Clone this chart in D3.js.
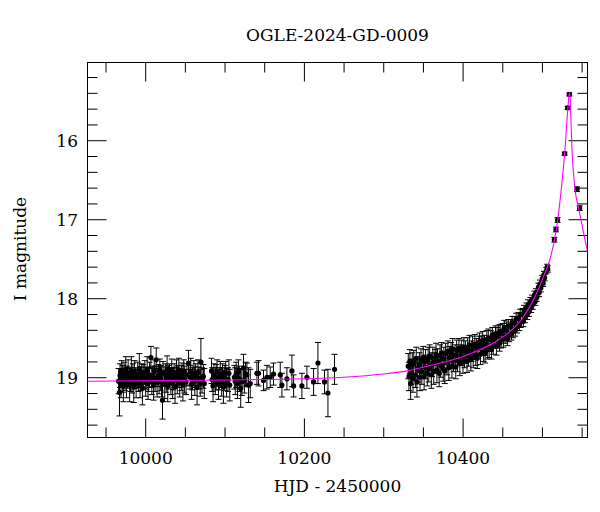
<!DOCTYPE html>
<html><head><meta charset="utf-8">
<script src="https://cdn.jsdelivr.net/npm/d3@7"></script>
<style>body{margin:0;background:#fff} svg{display:block} text{font-family:"DejaVu Serif",serif;fill:#000}</style>
</head><body><svg id="c" width="600" height="512"></svg>
<script>
const title = "OGLE-2024-GD-0009";
const xLabel = "HJD - 2450000";
const yLabel = "I magnitude";
const xMajorTicks = [10000, 10200, 10400];
const xMinorTicks = [9950, 10050, 10100, 10150, 10250, 10300, 10350, 10450, 10500, 10550];
const yMajorTicks = [16, 17, 18, 19];
const yMinorTicks = [15.2, 15.4, 15.6, 15.8, 16.2, 16.4, 16.6, 16.8, 17.2, 17.4, 17.6, 17.8, 18.2, 18.4, 18.6, 18.8, 19.2, 19.4, 19.6];

// [HJD-2450000, I mag, error]
const baselinePoints = [
[9966.5,19.05,.16],[9967.6,19.19,.30],[9968.3,18.98,.15],[9969.5,19.08,.18],[9970.4,18.93,.14],
[9971.6,19.02,.17],[9972.5,19.11,.20],[9973.4,18.96,.15],[9974.6,19.04,.13],[9975.5,18.90,.16],
[9976.4,19.07,.19],[9977.6,19.00,.14],[9978.5,18.95,.17],[9980.4,19.10,.21],[9981.5,19.03,.15],
[9982.6,18.92,.18],[9983.4,19.06,.14],[9984.5,18.99,.16],[9985.6,19.12,.20],[9986.4,18.94,.15],
[9987.5,19.01,.13],[9988.6,19.08,.18],[9990.5,18.97,.16],[9991.4,19.04,.14],[9992.6,18.89,.19],
[9993.5,19.09,.17],[9994.4,19.02,.15],[9995.6,18.96,.13],[9996.5,19.13,.22],[9997.4,19.00,.16],
[9999.5,18.94,.15],[10000.6,19.06,.18],[10001.4,19.01,.14],[10002.5,18.91,.17],[10003.6,19.08,.20],
[10004.4,19.03,.15],[10005.5,18.97,.16],[10007.2,18.75,.14],[10008.4,19.05,.17],[10009.5,18.99,.13],
[10010.6,19.10,.19],[10011.4,18.93,.15],[10012.5,19.02,.16],[10013.9,18.78,.15],[10015.0,19.07,.18],
[10016.5,18.98,.14],[10017.6,19.04,.17],[10018.4,18.92,.15],[10019.5,19.01,.16],[10020.6,19.06,.19],
[10021.8,19.29,.24],[10022.5,18.95,.15],[10024.6,19.09,.18],[10025.4,18.97,.14],[10026.5,19.03,.16],
[10027.6,18.90,.17],[10028.4,19.11,.20],[10029.5,19.00,.15],[10030.6,18.96,.13],[10032.4,19.05,.17],
[10033.5,18.93,.16],[10034.6,19.08,.19],[10035.4,19.02,.14],[10036.5,18.98,.15],[10037.6,19.12,.21],
[10039.4,18.94,.16],[10040.5,19.04,.17],[10041.6,18.99,.14],[10042.4,18.91,.15],[10043.5,19.07,.18],
[10045.6,19.01,.16],[10046.4,18.96,.14],[10047.5,19.10,.20],[10048.6,18.93,.15],[10049.4,19.03,.17],
[10051.5,19.06,.16],[10052.6,18.97,.14],[10054.6,18.82,.16],[10056.6,19.00,.15],[10057.4,18.93,.17],
[10058.5,19.09,.19],[10059.6,19.02,.14],[10061.4,18.95,.16],[10062.5,19.05,.18],[10063.6,18.98,.15],
[10065.4,19.13,.22],[10066.5,18.94,.16],[10067.6,19.01,.14],[10069.4,19.07,.17],[10070.2,18.81,.30],
[10071.6,19.04,.16],[10073.4,18.99,.15],[10074.5,19.08,.19],
[10083.6,18.92,.16],[10084.4,19.03,.15],[10085.5,19.11,.20],[10086.6,18.97,.14],[10088.4,19.05,.17],
[10089.5,19.00,.16],[10090.6,18.93,.15],[10092.4,19.09,.19],[10093.5,19.02,.14],[10094.6,18.96,.16],
[10096.4,19.06,.18],[10097.5,18.98,.15],[10098.6,19.12,.21],[10100.4,19.01,.16],[10101.5,18.94,.14],
[10102.6,19.07,.18],[10104.4,19.03,.15],[10105.5,18.95,.17],[10106.6,19.10,.20],
[10112.4,19.00,.15],[10113.5,19.05,.17],[10114.6,18.97,.16],[10116.4,19.08,.19],[10117.5,18.93,.15],
[10118.6,19.02,.16],[10120.4,19.14,.24],[10123.9,18.88,.17],[10125.0,19.04,.16],[10126.5,18.96,.15]
];

const sparsePoints = [
[10121.9,19.06,.17],[10128.2,18.97,.15],[10130.2,19.10,.22],[10132.4,19.08,.18],[10140.8,18.95,.14],
[10142.8,18.95,.16],[10149.1,19.04,.13],[10153.4,19.00,.15],[10157.6,19.00,.13],[10161.7,18.96,.14],
[10170.2,18.97,.16],[10172.3,19.10,.15],[10178.6,19.02,.14],[10184.9,18.92,.20],[10187.0,19.11,.14],
[10197.5,19.11,.16],[10203.8,19.00,.14],[10212.2,19.06,.17],[10217.7,18.82,.26],[10226.0,19.06,.15],
[10230.3,19.20,.30],[10238.6,18.90,.19]
];

const risePoints = [
[10331.5,18.86,.16],[10332.4,18.99,.18],[10333.6,18.80,.15],[10334.5,19.08,.20],[10335.4,18.93,.16],
[10336.6,18.84,.15],[10337.5,19.02,.17],[10338.4,18.81,.15],[10340.5,18.97,.16],[10341.6,18.76,.14],
[10342.4,19.06,.19],[10343.5,18.90,.16],[10345.6,18.84,.15],[10346.4,19.00,.17],[10347.5,18.79,.15],
[10348.6,18.93,.16],[10350.4,18.75,.14],[10351.5,18.99,.17],[10352.6,18.87,.15],[10353.4,18.80,.15],
[10355.5,18.95,.16],[10356.6,18.76,.14],[10357.4,18.90,.16],[10358.5,18.73,.14],[10360.6,18.97,.17],
[10361.4,18.84,.15],[10362.5,18.76,.14],[10363.6,18.93,.16],[10365.4,18.80,.15],[10366.5,18.71,.14],
[10367.6,18.91,.16],[10368.4,18.79,.15],[10370.5,18.95,.17],[10371.6,18.73,.14],[10372.4,18.85,.15],
[10373.5,18.69,.13],[10375.6,18.89,.16],[10376.4,18.77,.15],[10377.5,18.92,.16],[10378.6,18.70,.13],
[10380.4,18.82,.15],[10381.5,18.67,.13],[10382.6,18.88,.16],[10383.4,18.75,.14],[10385.5,18.69,.13],
[10386.6,18.86,.15],[10387.4,18.64,.13],[10388.5,18.79,.14],[10390.6,18.72,.13],[10391.4,18.87,.15],
[10392.5,18.66,.13],[10393.6,18.79,.14],[10395.4,18.63,.12],[10396.5,18.83,.15],[10397.6,18.72,.13],
[10398.4,18.66,.13],[10400.5,18.81,.14],[10401.6,18.62,.12],[10402.4,18.75,.13],[10403.5,18.67,.13],
[10405.6,18.80,.14],[10406.4,18.62,.12],[10407.5,18.73,.13],[10408.6,18.59,.12],[10410.4,18.78,.14],
[10411.5,18.67,.13],[10412.6,18.60,.12],[10413.4,18.75,.13],[10415.5,18.58,.12],[10416.6,18.72,.13],
[10417.4,18.63,.12],[10418.5,18.76,.13],[10420.6,18.60,.12],[10421.4,18.55,.11],[10422.5,18.71,.13],
[10423.6,18.60,.12],[10425.4,18.53,.11],[10426.5,18.68,.12],[10427.6,18.58,.11],[10428.4,18.70,.12],
[10430.5,18.52,.11],[10431.6,18.65,.12],[10432.4,18.50,.11],[10433.5,18.63,.12],[10435.6,18.52,.11],
[10436.4,18.65,.12],[10437.5,18.47,.10],[10438.6,18.60,.11],[10440.4,18.53,.10],[10441.5,18.45,.10],
[10442.6,18.61,.11],[10443.4,18.47,.10],[10445.5,18.44,.10],[10446.6,18.57,.10],[10447.4,18.42,.09],
[10448.5,18.53,.10],[10450.6,18.41,.09],[10451.4,18.52,.10],[10452.5,18.37,.09],[10453.6,18.48,.09],
[10455.4,18.39,.09],[10456.5,18.51,.09],[10457.6,18.35,.08],[10458.4,18.46,.09],[10460.5,18.35,.08],
[10461.6,18.45,.08],[10462.4,18.31,.08],[10463.5,18.42,.08],[10465.6,18.31,.08],[10466.4,18.40,.08],
[10467.5,18.26,.07],[10468.6,18.36,.08],[10470.4,18.25,.07],[10471.5,18.34,.07],[10472.6,18.21,.07],
[10473.4,18.30,.07],[10475.5,18.20,.07],[10476.6,18.29,.07],[10477.4,18.15,.06],[10478.5,18.24,.07],
[10480.6,18.12,.06],[10481.4,18.21,.06],[10482.5,18.08,.06],[10483.6,18.17,.06],[10485.4,18.05,.06],
[10486.5,18.12,.06],[10487.6,18.01,.05],[10488.4,18.08,.06],[10490.5,17.96,.05],[10491.6,18.04,.05],
[10492.4,17.93,.05],[10493.5,17.99,.05],[10495.6,17.86,.05],[10496.4,17.93,.05],[10497.5,17.82,.05],
[10498.6,17.87,.05],[10500.4,17.75,.04],[10501.5,17.81,.04],[10502.6,17.70,.04],[10503.4,17.74,.04],
[10505.5,17.65,.04],[10506.6,17.61,.04],[10507.4,17.63,.04]
];

const peakPoints = [
[10515.6,17.26,.03],[10517.7,17.13,.03],[10519.7,17.01,.03],[10528.6,16.17,.02],
[10532.4,15.59,.02],[10534.5,15.42,.02],[10544.2,16.62,.03],[10547.5,16.86,.03]
];

// model curve
const modelHjd = [9927, 10000, 10100, 10200, 10250, 10300, 10330, 10360, 10400, 10420, 10440, 10460, 10475, 10485, 10495, 10503, 10510, 10515, 10520, 10524, 10527, 10529.5, 10531.5, 10533, 10534.5, 10535.5, 10536.5, 10538, 10540, 10542, 10546, 10550, 10554, 10557.6];
const modelMag = [19.05, 19.045, 19.035, 19.02, 19.00, 18.96, 18.92, 18.85, 18.74, 18.66, 18.56, 18.42, 18.26, 18.10, 17.90, 17.70, 17.51, 17.30, 17.00, 16.65, 16.35, 16.05, 15.75, 15.55, 15.40, 15.45, 15.75, 16.15, 16.45, 16.65, 16.85, 17.05, 17.25, 17.42];

const L = 87.5, R = 587.5, T = 62.5, B = 437.5;
const svg = d3.select("#c");
const x = d3.scaleLinear().domain([9927.3, 10557.4]).range([L, R]);
const y = d3.scaleLinear().domain([15.016, 19.763]).range([T, B]);

svg.append("defs").append("clipPath").attr("id", "clip")
  .append("rect").attr("x", L).attr("y", T).attr("width", R - L).attr("height", B - T);

function styleAxis(g) {
  g.select(".domain").remove();
  g.selectAll("line").attr("stroke", "#000").attr("stroke-width", 1);
  g.selectAll("text").style("font-family", '"DejaVu Serif", serif').attr("fill", "#000");
}
const fmt = d3.format("d");
svg.append("g").attr("transform", `translate(0,${B})`)
  .call(d3.axisBottom(x).tickValues(xMajorTicks).tickSize(-19).tickFormat(fmt))
  .call(styleAxis)
  .call(g => g.selectAll("text").attr("y", 26).attr("dy", null).style("font-size", "17px"));
svg.append("g").attr("transform", `translate(0,${B})`)
  .call(d3.axisBottom(x).tickValues(xMinorTicks).tickSize(-10).tickFormat(""))
  .call(styleAxis);
svg.append("g").attr("transform", `translate(0,${T})`)
  .call(d3.axisTop(x).tickValues(xMajorTicks).tickSize(-19).tickFormat(""))
  .call(styleAxis);
svg.append("g").attr("transform", `translate(0,${T})`)
  .call(d3.axisTop(x).tickValues(xMinorTicks).tickSize(-10).tickFormat(""))
  .call(styleAxis);
svg.append("g").attr("transform", `translate(${L},0)`)
  .call(d3.axisLeft(y).tickValues(yMajorTicks).tickSize(-19).tickFormat(fmt))
  .call(styleAxis)
  .call(g => g.selectAll("text").attr("x", -9.5).attr("dy", "0.37em").style("font-size", "17px"));
svg.append("g").attr("transform", `translate(${L},0)`)
  .call(d3.axisLeft(y).tickValues(yMinorTicks).tickSize(-10).tickFormat(""))
  .call(styleAxis);
svg.append("g").attr("transform", `translate(${R},0)`)
  .call(d3.axisRight(y).tickValues(yMajorTicks).tickSize(-19).tickFormat(""))
  .call(styleAxis);
svg.append("g").attr("transform", `translate(${R},0)`)
  .call(d3.axisRight(y).tickValues(yMinorTicks).tickSize(-10).tickFormat(""))
  .call(styleAxis);

svg.append("rect").attr("x", L).attr("y", T).attr("width", R - L).attr("height", B - T)
  .attr("fill", "none").attr("stroke", "#000").attr("stroke-width", 1);

const allPoints = baselinePoints.concat(sparsePoints, risePoints, peakPoints);
const dataG = svg.append("g").attr("clip-path", "url(#clip)");
const eb = dataG.append("g").attr("stroke", "#000").attr("stroke-width", 1);
allPoints.forEach(p => {
  const px = x(p[0]), y1 = y(p[1] - p[2]), y2 = y(p[1] + p[2]);
  eb.append("line").attr("x1", px).attr("x2", px).attr("y1", y1).attr("y2", y2);
  eb.append("line").attr("x1", px - 3).attr("x2", px + 3).attr("y1", y1).attr("y2", y1);
  eb.append("line").attr("x1", px - 3).attr("x2", px + 3).attr("y1", y2).attr("y2", y2);
});
dataG.append("g").selectAll("circle").data(allPoints).join("circle")
  .attr("cx", d => x(d[0])).attr("cy", d => y(d[1])).attr("r", 2.6).attr("fill", "#000");

const model = modelHjd.map((h, i) => [h, modelMag[i]]);
dataG.append("path").datum(model)
  .attr("fill", "none").attr("stroke", "#ff00ff").attr("stroke-width", 1.1)
  .attr("d", d3.line().x(d => x(d[0])).y(d => y(d[1])).curve(d3.curveMonotoneX));

svg.append("text").attr("x", (L + R) / 2).attr("y", 41).attr("text-anchor", "middle")
  .style("font-size", "17px").text(title);
svg.append("text").attr("x", (L + R) / 2).attr("y", 492).attr("text-anchor", "middle")
  .style("font-size", "17px").text(xLabel);
svg.append("text").attr("transform", "translate(26,249) rotate(-90)").attr("text-anchor", "middle")
  .style("font-size", "17px").text(yLabel);
</script></body></html>
